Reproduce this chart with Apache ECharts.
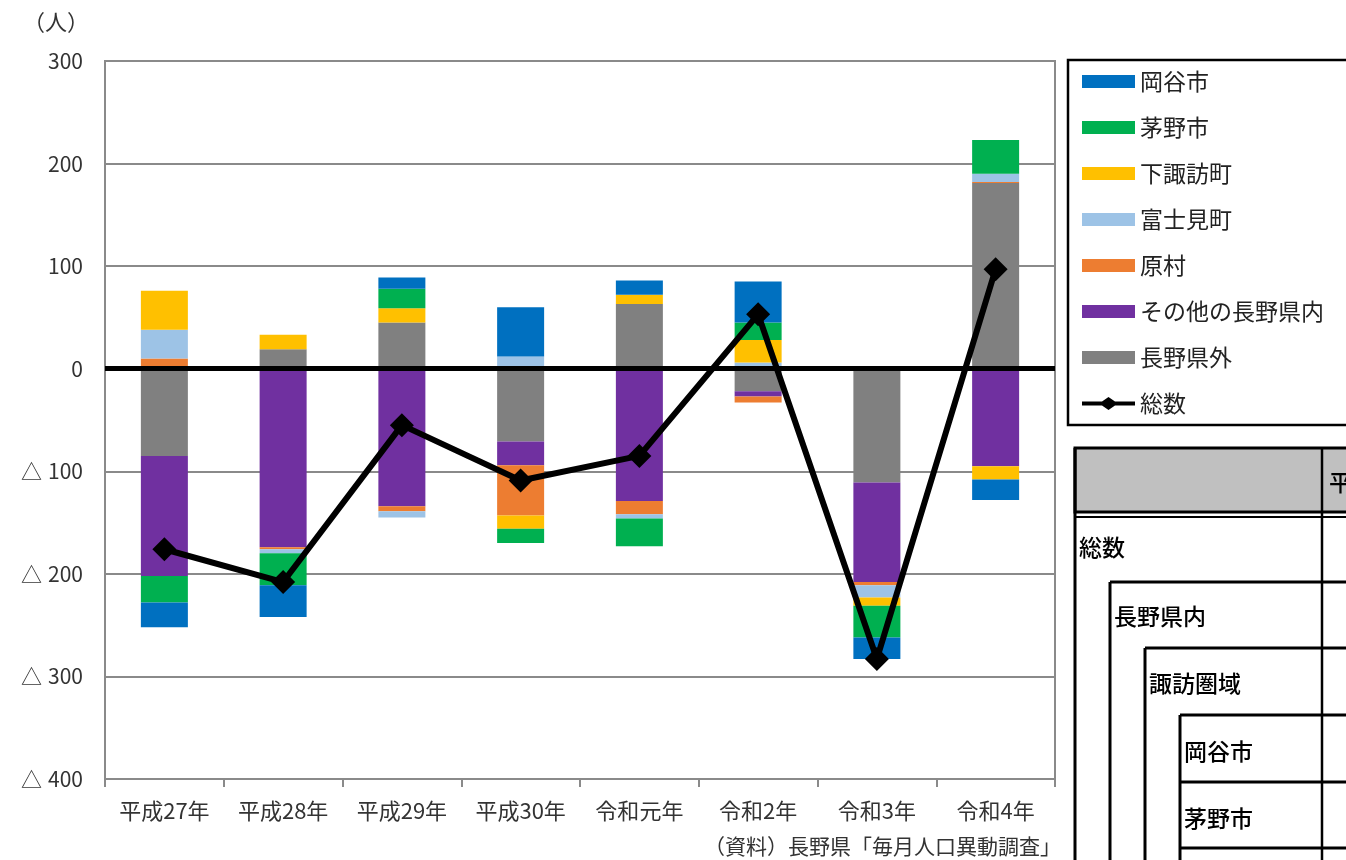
<!DOCTYPE html>
<html lang="ja">
<head>
<meta charset="utf-8">
<title>転入転出超過数の推移</title>
<script src="https://cdn.jsdelivr.net/npm/echarts@6/dist/echarts.min.js"></script>
<style>
  html, body { margin: 0; padding: 0; background: #ffffff; }
  #chart { width: 1346px; height: 860px; }
</style>
</head>
<body>
<div id="chart"></div>
<script>
// 年次
const categories = ['平成27年', '平成28年', '平成29年', '平成30年', '令和元年', '令和2年', '令和3年', '令和4年'];

// 転入超過数（人）・地域別
const outsidePref  = [-85, 19, 45, -71, 63, -22, -111, 181];   // 長野県外
const otherInPref  = [-117, -174, -134, -23, -129, -5, -97, -95]; // その他の長野県内
const haraMura     = [10, -2, -5, -49, -13, -6, -3, 1];        // 原村
const fujimiMachi  = [28, -4, -6, 12, -4, 6, -12, 8];          // 富士見町
const shimosuwa    = [38, 14, 14, -13, 9, 22, -8, -13];        // 下諏訪町
const chinoShi     = [-26, -31, 19, -14, -27, 17, -31, 33];    // 茅野市
const okayaShi     = [-24, -31, 11, 48, 14, 40, -21, -20];     // 岡谷市
const totalNet     = [-176, -208, -55, -109, -85, 53, -283, 97]; // 総数

// 縦軸目盛
const yMin = -400, yMax = 300, yStep = 100;

const FONT = '"Noto Sans CJK JP", "Noto Sans", sans-serif';
const AXIS_GRAY = '#8a8a8a';
const LABEL_COLOR = '#333333';

// 積み上げ順（0 に近い側から）
const stackSeries = [
  { name: '長野県外', data: outsidePref, color: '#808080' },
  { name: 'その他の長野県内', data: otherInPref, color: '#7030A0' },
  { name: '原村', data: haraMura, color: '#ED7D31' },
  { name: '富士見町', data: fujimiMachi, color: '#9DC3E6' },
  { name: '下諏訪町', data: shimosuwa, color: '#FFC000' },
  { name: '茅野市', data: chinoShi, color: '#00B050' },
  { name: '岡谷市', data: okayaShi, color: '#0070C0' }
];

const legendOrder = ['岡谷市', '茅野市', '下諏訪町', '富士見町', '原村', 'その他の長野県内', '長野県外'];

const series = stackSeries.map(s => ({
  name: s.name,
  type: 'bar',
  stack: 'net',
  barWidth: 47,
  data: s.data,
  itemStyle: { color: s.color },
  z: 2
}));

series.push({
  name: '総数',
  type: 'line',
  data: totalNet,
  symbol: 'diamond',
  symbolSize: 24,
  itemStyle: { color: '#000000' },
  lineStyle: { color: '#000000', width: 6 },
  z: 10,
  markLine: {
    silent: true,
    symbol: 'none',
    label: { show: false },
    lineStyle: { color: '#000000', width: 5, type: 'solid' },
    data: [{ yAxis: 0 }]
  }
});

// 右下の表（部分）
const tableLine = (x1, y1, x2, y2, w) => ({
  type: 'line',
  shape: { x1, y1, x2, y2 },
  style: { stroke: '#000000', lineWidth: w || 3 }
});
const tableText = (x, y, text) => ({
  type: 'text',
  x, y,
  style: {
    text, fill: '#000000',
    font: '500 23px ' + FONT,
    verticalAlign: 'middle', align: 'left'
  }
});

const graphics = [
  // 単位
  { type: 'text', x: 56, y: 22,
    style: { text: '（人）', fill: LABEL_COLOR, font: '22px ' + FONT, align: 'center', verticalAlign: 'middle' } },
  // 出典
  { type: 'text', x: 1061, y: 846,
    style: { text: '（資料）長野県「毎月人口異動調査」', fill: LABEL_COLOR, font: '21px ' + FONT, align: 'right', verticalAlign: 'middle' } },
  // 凡例の枠
  { type: 'rect', shape: { x: 1068, y: 60, width: 400, height: 365 },
    style: { fill: 'none', stroke: '#000000', lineWidth: 2.5 }, z: -1 },
  // 表：見出し
  { type: 'rect', shape: { x: 1075, y: 448, width: 300, height: 64 },
    style: { fill: '#C0C0C0', stroke: '#000000', lineWidth: 3 } },
  tableLine(1075, 517, 1346, 517, 2),
  tableLine(1075, 448, 1075, 860, 3),
  tableLine(1322, 448, 1322, 860, 2.5),
  tableLine(1110, 582, 1346, 582, 3),
  tableLine(1110, 582, 1110, 860, 3),
  tableLine(1145, 648, 1346, 648, 3),
  tableLine(1145, 648, 1145, 860, 3),
  tableLine(1180, 715, 1346, 715, 3),
  tableLine(1180, 715, 1180, 860, 3),
  tableLine(1180, 782, 1346, 782, 3),
  tableLine(1180, 848, 1346, 848, 3),
  tableText(1329, 482, '平成27年'),
  tableText(1079, 547, '総数'),
  tableText(1114, 616, '長野県内'),
  tableText(1149, 683, '諏訪圏域'),
  tableText(1184, 751, '岡谷市'),
  tableText(1184, 818, '茅野市')
];

// 凡例：棒は矩形、総数は線と菱形
const legendData = legendOrder.map(name => ({ name, icon: 'rect' }));
legendData.push({
  name: '総数',
  icon: 'path://M0,4.5 L20,4.5 L26.5,0 L33,4.5 L53,4.5 L53,8.5 L33,8.5 L26.5,13 L20,8.5 L0,8.5 Z'
});

const chart = echarts.init(document.getElementById('chart'), null, { renderer: 'canvas' });
chart.setOption({
  animation: false,
  backgroundColor: '#ffffff',
  textStyle: { fontFamily: FONT },
  grid: {
    left: 105, right: 291, top: 61, bottom: 81,
    show: true, borderColor: AXIS_GRAY, borderWidth: 2, backgroundColor: 'transparent'
  },
  legend: {
    data: legendData,
    orient: 'vertical',
    left: 1082,
    top: 70,
    padding: 0,
    itemWidth: 53,
    itemHeight: 13,
    itemGap: 23,
    selectedMode: false,
    textStyle: { fontSize: 23, color: '#222222', lineHeight: 23, fontFamily: FONT }
  },
  xAxis: {
    type: 'category',
    data: categories,
    boundaryGap: true,
    axisLine: { onZero: false, lineStyle: { color: AXIS_GRAY, width: 2 } },
    axisTick: { show: true, interval: 0, alignWithLabel: false, length: 8, lineStyle: { color: AXIS_GRAY, width: 2 } },
    axisLabel: { interval: 0, margin: 21, fontSize: 22, color: LABEL_COLOR, fontFamily: FONT },
    splitLine: { show: false }
  },
  yAxis: {
    type: 'value',
    min: yMin, max: yMax, interval: yStep,
    axisLine: { show: true, lineStyle: { color: AXIS_GRAY, width: 2 } },
    axisTick: { show: false },
    axisLabel: {
      margin: 22, fontSize: 21, color: LABEL_COLOR, fontFamily: FONT,
      formatter: v => (v < 0 ? '△ \u200A' + (-v) : String(v))
    },
    splitLine: { show: true, lineStyle: { color: AXIS_GRAY, width: 2 } }
  },
  series: series,
  graphic: graphics
});
</script>
</body>
</html>
